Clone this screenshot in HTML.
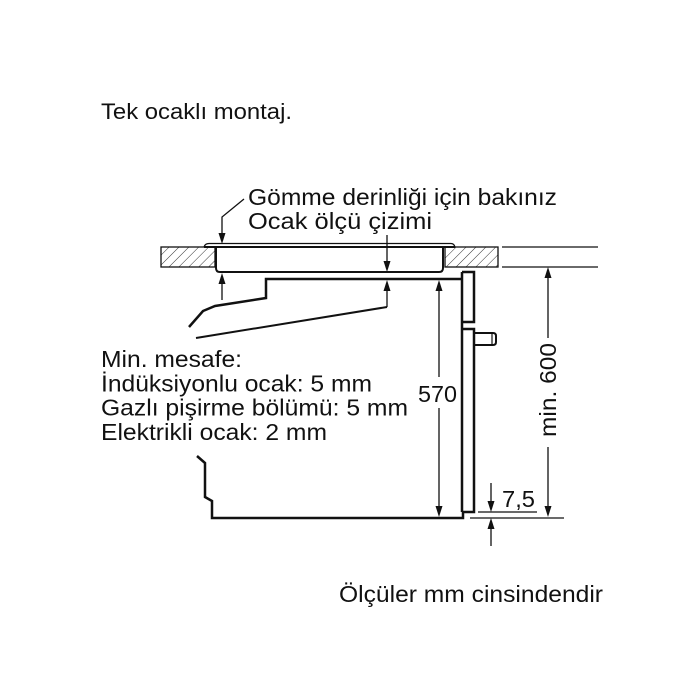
<!DOCTYPE html>
<html><head><meta charset="utf-8"><style>
html,body{margin:0;padding:0;background:#fff;}
svg{display:block;}
text{font-family:"Liberation Sans",Arial,sans-serif;fill:#111;}
</style></head><body>
<svg width="700" height="700" viewBox="0 0 700 700" xmlns="http://www.w3.org/2000/svg">
<defs>
<pattern id="h" patternUnits="userSpaceOnUse" width="7" height="7" patternTransform="rotate(45)">
<line x1="0" y1="0" x2="0" y2="7" stroke="#333" stroke-width="1"/>
</pattern>
</defs>
<rect width="700" height="700" fill="#fff"/>

<text x="101" y="119" font-size="22" textLength="191" lengthAdjust="spacingAndGlyphs">Tek ocaklı montaj.</text>
<text x="248" y="205" font-size="23" textLength="309" lengthAdjust="spacingAndGlyphs">Gömme derinliği için bakınız</text>
<text x="248" y="229" font-size="23" textLength="184" lengthAdjust="spacingAndGlyphs">Ocak ölçü çizimi</text>

<!-- counters -->
<rect x="161" y="247" width="54" height="20" fill="url(#h)" stroke="#111" stroke-width="1.3"/>
<rect x="445" y="247" width="53" height="20" fill="url(#h)" stroke="#111" stroke-width="1.3"/>
<line x1="502" y1="247" x2="598" y2="247" stroke="#111" stroke-width="1.3"/>
<line x1="502" y1="267" x2="598" y2="267" stroke="#111" stroke-width="1.3"/>

<!-- hob -->
<path d="M204,247 Q205,243.5 209,243.5 L451,243.5 Q454,243.5 455,247" fill="none" stroke="#111" stroke-width="1.3"/>
<line x1="204" y1="247" x2="455" y2="247" stroke="#111" stroke-width="2"/>
<path d="M216,247 L216,268 Q216,272 220,272 L439,272 Q443,272 443,268 L443,247" fill="none" stroke="#111" stroke-width="2"/>

<!-- oven -->
<g fill="none" stroke="#111" stroke-width="2.5" stroke-linejoin="miter">
<path d="M189,327 L203,311 L215,306 L266,298 L266,279 L463,279"/>
<path d="M197,456 L205,463 L205,497 L212,501 L212,518 L463,518 L463,512 L474,512 L474,329 L462,329"/>
<path d="M462,272 L474,272 L474,322 L462,322"/>
<line x1="462" y1="272" x2="462" y2="512"/>
</g>
<path d="M474,333 L493,333 Q496,333 496,336 L496,342 Q496,345 493,345 L474,345" fill="none" stroke="#111" stroke-width="2"/>
<line x1="492" y1="333" x2="492" y2="345" stroke="#111" stroke-width="1.2"/>

<!-- dimension lines -->
<g stroke="#111" stroke-width="1.3" fill="none">
<path d="M244,199 L222,217 L222,236"/>
<line x1="222" y1="280" x2="222" y2="300"/>
<line x1="387" y1="235" x2="387" y2="265"/>
<line x1="387" y1="287" x2="387" y2="307"/>
<line x1="196" y1="338" x2="387" y2="307" stroke-width="2"/>
<line x1="439" y1="288" x2="439" y2="377"/>
<line x1="439" y1="408" x2="439" y2="510"/>
<line x1="548" y1="275" x2="548" y2="338"/>
<line x1="548" y1="447" x2="548" y2="510"/>
<line x1="478" y1="512" x2="537" y2="512"/>
<line x1="470" y1="518" x2="564" y2="518"/>
<line x1="491" y1="483" x2="491" y2="505"/>
<line x1="491" y1="526" x2="491" y2="546"/>
</g>
<g fill="#111">
<polygon points="222,244 218.5,233 225.5,233"/>
<polygon points="222,273 218.5,284 225.5,284"/>
<polygon points="387,272 383.5,261 390.5,261"/>
<polygon points="387,280 383.5,291 390.5,291"/>
<polygon points="439,280 435.5,291 442.5,291"/>
<polygon points="439,517 435.5,506 442.5,506"/>
<polygon points="548,267 544.5,278 551.5,278"/>
<polygon points="548,517 544.5,506 551.5,506"/>
<polygon points="491,512 487.5,501 494.5,501"/>
<polygon points="491,518 487.5,529 494.5,529"/>
</g>

<text x="101" y="367" font-size="23" textLength="141" lengthAdjust="spacingAndGlyphs">Min. mesafe:</text>
<text x="101" y="391.5" font-size="23" textLength="271" lengthAdjust="spacingAndGlyphs">İndüksiyonlu ocak: 5 mm</text>
<text x="101" y="415.5" font-size="23" textLength="307" lengthAdjust="spacingAndGlyphs">Gazlı pişirme bölümü: 5 mm</text>
<text x="101" y="440" font-size="23" textLength="226" lengthAdjust="spacingAndGlyphs">Elektrikli ocak: 2 mm</text>

<text x="418" y="402" font-size="23" textLength="39" lengthAdjust="spacingAndGlyphs">570</text>
<text x="0" y="0" font-size="23" textLength="94" lengthAdjust="spacingAndGlyphs" transform="translate(556,437) rotate(-90)">min. 600</text>
<text x="502" y="507" font-size="23" textLength="33" lengthAdjust="spacingAndGlyphs">7,5</text>

<text x="339" y="602" font-size="23" textLength="264" lengthAdjust="spacingAndGlyphs">Ölçüler mm cinsindendir</text>
</svg>
</body></html>
